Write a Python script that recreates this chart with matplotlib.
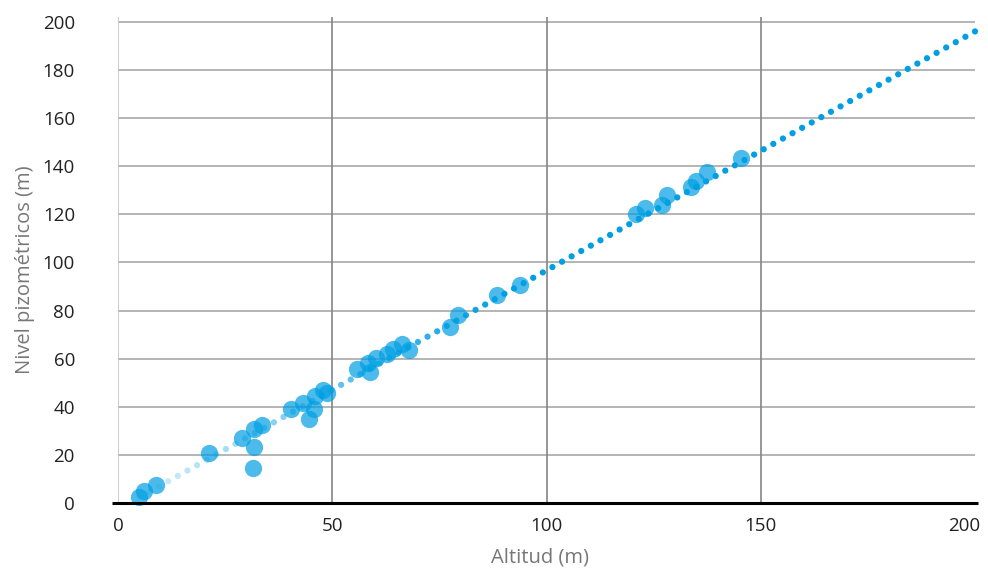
import numpy as np
import matplotlib
matplotlib.use("Agg")
import matplotlib.pyplot as plt
import matplotlib.transforms as mtransforms
from matplotlib.colors import to_rgba

# Well survey: ground altitude vs piezometric level (m)
altitud = [5.0, 6.1, 8.9, 21.3, 28.9, 31.7, 33.7, 31.8, 31.6, 40.4, 43.1, 45.7,
           44.6, 46.0, 47.8, 48.8, 55.7, 58.8, 58.4, 60.2, 62.7, 64.2, 66.2, 68.0,
           77.5, 79.4, 88.4, 93.8, 121.0, 123.0, 126.9, 128.2, 133.7, 134.9,
           137.5, 145.3]
nivel = [2.4, 5.1, 7.5, 20.7, 26.9, 30.6, 32.6, 23.3, 14.4, 39.0, 41.7, 39.0,
         35.1, 44.5, 47.0, 45.6, 55.9, 54.6, 58.1, 60.2, 62.0, 63.9, 66.1, 63.6,
         73.3, 78.0, 86.3, 90.6, 120.0, 122.5, 123.9, 127.9, 131.5, 133.7,
         137.6, 143.3]

# linear trend (nivel = slope * altitud + intercept), extended to x = 200
trend_slope = 0.993
trend_intercept = -2.6
trend_end = 200

x_ticks = [0, 50, 100, 150, 200]
y_ticks = [0, 20, 40, 60, 80, 100, 120, 140, 160, 180, 200]
x_label = "Altitud (m)"
y_label = "Nivel pizométricos (m)"

blue = "#009fe3"
font = ["Open Sans", "DejaVu Sans"]
plt.rcParams["font.family"] = font

fig = plt.figure(figsize=(9.88, 5.70), dpi=100)
ax = fig.add_axes([118 / 988, 1 - 503 / 570, (975 - 118) / 988, (503 - 17) / 570])
ax.set_xlim(0, 200)
ax.set_ylim(0, 202)

for s in ax.spines.values():
    s.set_visible(False)

# grid
for yv in y_ticks[1:]:
    ax.axhline(yv, color="#a0a0a0", lw=1.1, zorder=0)
for xv in x_ticks[:-1]:
    ax.axvline(xv, color="#c4c4c4" if xv == 0 else "#858585", lw=1.2, zorder=0)
ax.plot([-0.007, 1.004], [0, 0], transform=ax.transAxes, color="black",
        lw=2.2, clip_on=False, zorder=5, solid_capstyle="butt")

# trend drawn as dots that fade in along x
tx = np.linspace(min(altitud), trend_end, 88)
ty = trend_slope * tx + trend_intercept
alphas = np.clip(0.15 + 0.85 * (tx - min(altitud)) / 85.0, 0.15, 1.0)
cols = [to_rgba(blue, a) for a in alphas]
ax.scatter(tx, ty, s=20, c=cols, linewidths=0, zorder=2, clip_on=False)

# observations
ax.scatter(altitud, nivel, s=155, color=blue, alpha=0.7, linewidths=0,
           zorder=3, clip_on=False)

ax.set_xticks(x_ticks)
ax.set_yticks(y_ticks)
ax.tick_params(axis="both", length=0, labelsize=13.5, labelcolor="#222222")
ax.tick_params(axis="y", pad=31)
ax.tick_params(axis="x", pad=10)

# keep the last x tick label inside the figure
last = ax.get_xticklabels()[-1]
last.set_transform(last.get_transform() +
                   mtransforms.ScaledTranslation(-8 / 72, 0, fig.dpi_scale_trans))

ax.set_xlabel(x_label, fontsize=14.5, color="#777777")
ax.set_ylabel(y_label, fontsize=14.5, color="#777777")
ax.xaxis.set_label_coords((540 - 118) / 857, -(558 - 503) / 486)
ax.yaxis.set_label_coords(-(118 - 25) / 857, (503 - 270) / 486)
ax.xaxis.label.set_va("center")
ax.yaxis.label.set_va("center")

fig.savefig("out.png", dpi=100, facecolor="white")
